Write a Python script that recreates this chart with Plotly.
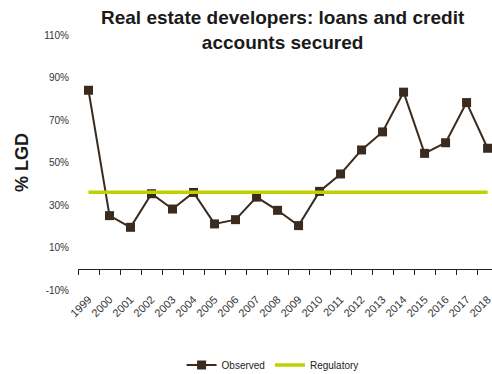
import plotly.graph_objects as go

years = [str(y) for y in range(1999, 2019)]
observed = [84, 25, 19.5, 35.3, 28.1, 35.9, 21.1, 23.1, 33.7, 27.5, 20.3, 36.4,
            44.6, 55.9, 64.4, 83.1, 54.3, 59.3, 78.2, 56.7]
regulatory = [36] * len(years)
ytick_vals = [-10, 10, 30, 50, 70, 90, 110]
ytick_text = [f"{v}%" for v in ytick_vals]

brown = "#3b2b1f"
green = "#bfd100"
font_tick = "Liberation Sans Narrow, Liberation Sans, Arial, sans-serif"
font_title = "Liberation Sans Narrow, Arial Narrow, sans-serif"

fig = go.Figure()
fig.add_trace(go.Scatter(
    x=years, y=observed, name="Observed", mode="lines+markers",
    line=dict(color=brown, width=2),
    marker=dict(symbol="square", size=9, color=brown),
))
fig.add_trace(go.Scatter(
    x=years, y=regulatory, name="Regulatory", mode="lines",
    line=dict(color=green, width=3.5),
))
# invisible trace for the secondary (zero-line) axis
fig.add_trace(go.Scatter(x=years, y=[None] * len(years), xaxis="x2",
                         showlegend=False, hoverinfo="skip"))

fig.add_annotation(
    text="<b>Real estate developers: loans and credit<br>accounts secured</b>",
    xref="paper", yref="paper", x=0.495, xanchor="center",
    y=1 + 30 / 255, yanchor="top", showarrow=False,
    font=dict(family=font_title, size=19, color="#1a1a1a"),
    align="center",
)

fig.update_layout(
    width=492, height=374,
    margin=dict(l=78, r=0, t=35, b=84, autoexpand=False),
    paper_bgcolor="white", plot_bgcolor="white",
    xaxis=dict(
        type="category", range=[-0.5, 19.21], automargin=False,
        showline=False, showgrid=False, ticks="", zeroline=False,
        tickangle=-45, tickfont=dict(family=font_tick, size=11, color="#333333"),
    ),
    xaxis2=dict(
        type="category", overlaying="x", matches="x", anchor="free",
        position=10 / 120, side="bottom",
        showline=True, linecolor="#222222", linewidth=1.3,
        ticks="outside", ticklen=5, tickcolor="#222222", tickwidth=1.3,
        tickson="boundaries", showticklabels=False, showgrid=False,
    ),
    yaxis=dict(
        range=[-10, 110], tickvals=ytick_vals, ticktext=ytick_text,
        showgrid=False, zeroline=False, showline=False, ticks="",
        ticklabelstandoff=8, automargin=False,
        tickfont=dict(family=font_tick, size=10, color="#333333"),
        title=dict(text="<b>% LGD</b>", standoff=10,
                   font=dict(family=font_title, size=18, color="#1a1a1a")),
    ),
    legend=dict(
        orientation="h", x=0.47, xanchor="center",
        yref="container", y=(374 - 365) / 374, yanchor="middle",
        font=dict(family=font_tick, size=10, color="#222222"),
        itemwidth=30, tracegroupgap=0,
    ),
    showlegend=True,
)

fig.write_html("out.html")
